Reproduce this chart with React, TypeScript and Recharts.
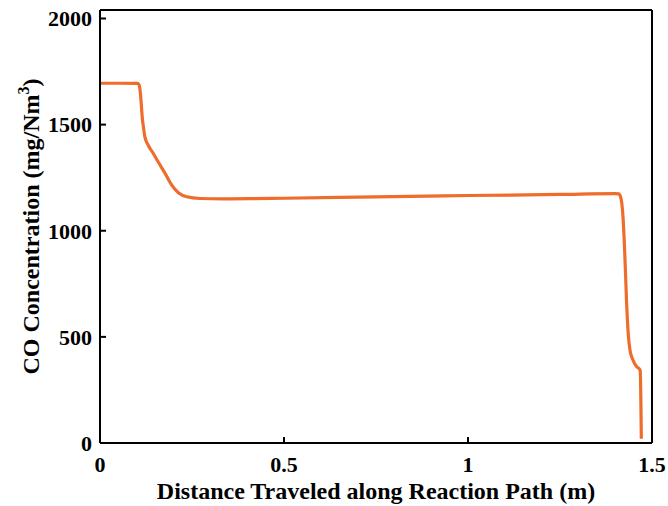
import React from 'react';
import { LineChart, Line, XAxis, YAxis } from 'recharts';

const distance = [
  0, 0.05, 0.102, 0.106, 0.109, 0.112, 0.115, 0.118, 0.122, 0.131, 0.145, 0.158, 0.177,
  0.195, 0.213, 0.236, 0.272, 0.335, 0.408, 0.5, 0.75, 1.0, 1.25, 1.4, 1.41,
  1.416, 1.421, 1.426, 1.431, 1.436, 1.44, 1.448, 1.458, 1.466, 1.468, 1.471,
];
const coConc = [
  1695, 1695, 1694, 1688, 1660, 1600, 1530, 1489, 1442, 1403, 1364, 1325, 1270,
  1215, 1179, 1160, 1152, 1150, 1151, 1153, 1160, 1166, 1171, 1175, 1174,
  1150, 1070, 894, 659, 501, 439, 392, 360, 348, 340, 20,
];
const xTicks = [0, 0.5, 1, 1.5];
const yTicks = [0, 500, 1000, 1500, 2000];
const xTitle = 'Distance Traveled along Reaction Path (m)';
const yTitleMain = 'CO Concentration (mg/Nm';
const yTitleSup = '3';
const yTitleEnd = ')';

const data = distance.map((d, i) => ({ x: d, y: coConc[i] }));

const FONT = 'Liberation Serif, Times New Roman, serif';
const tickStyle = { fill: '#000', fontSize: 22, fontWeight: 'bold', fontFamily: FONT };
const axisLineStyle = { stroke: '#000', strokeWidth: 2 };
const tickLineStyle = { stroke: '#000', strokeWidth: 2 };

const YTitle = (props: any) => {
  const vb = props.viewBox || { x: 0, y: 10, width: 100, height: 433 };
  const cx = vb.x + 39;
  const cy = vb.y + vb.height / 2;
  return (
    <text
      x={cx}
      y={cy}
      transform={`rotate(-90, ${cx}, ${cy})`}
      textAnchor="middle"
      fontFamily={FONT}
      fontWeight="bold"
      fontSize={24}
      fill="#000"
    >
      {yTitleMain}
      <tspan dy={-10} fontSize={16}>{yTitleSup}</tspan>
      <tspan dy={10}>{yTitleEnd}</tspan>
    </text>
  );
};

const XTitle = (props: any) => {
  const vb = props.viewBox || { x: 100, y: 443, width: 552, height: 63 };
  return (
    <text
      x={vb.x + vb.width / 2}
      y={vb.y + 56}
      textAnchor="middle"
      fontFamily={FONT}
      fontWeight="bold"
      fontSize={24}
      fill="#000"
    >
      {xTitle}
    </text>
  );
};

export default function App() {
  return (
    <div style={{ position: 'absolute', left: 0, top: 0, background: '#fff' }}>
      <LineChart
        width={668}
        height={506}
        data={data}
        margin={{ top: 9, right: 15, bottom: 0, left: 0 }}
      >
        <XAxis
          xAxisId="b"
          dataKey="x"
          type="number"
          domain={[0, 1.5]}
          ticks={xTicks}
          allowDataOverflow
          height={63}
          tickSize={-6}
          tickMargin={19}
          tick={tickStyle}
          axisLine={axisLineStyle}
          tickLine={tickLineStyle}
          tickFormatter={(v: number) => String(v)}
          label={<XTitle />}
        />
        <XAxis
          xAxisId="t"
          orientation="top"
          dataKey="x"
          type="number"
          domain={[0, 1.5]}
          ticks={xTicks}
          allowDataOverflow
          height={1}
          tickSize={-6}
          tick={false}
          axisLine={axisLineStyle}
          tickLine={tickLineStyle}
        />
        <YAxis
          yAxisId="l"
          type="number"
          domain={[0, 2040]}
          ticks={yTicks}
          allowDataOverflow
          width={100}
          tickSize={-6}
          tickMargin={14}
          tick={tickStyle}
          axisLine={axisLineStyle}
          tickLine={tickLineStyle}
          label={<YTitle />}
        />
        <YAxis
          yAxisId="r"
          orientation="right"
          type="number"
          domain={[0, 2040]}
          ticks={yTicks}
          allowDataOverflow
          width={1}
          tickSize={-6}
          tick={false}
          axisLine={axisLineStyle}
          tickLine={tickLineStyle}
        />
        <Line
          xAxisId="b"
          yAxisId="l"
          type="monotone"
          dataKey="y"
          stroke="#EE6C2C"
          strokeWidth={3.2}
          dot={false}
          isAnimationActive={false}
        />
      </LineChart>
    </div>
  );
}
